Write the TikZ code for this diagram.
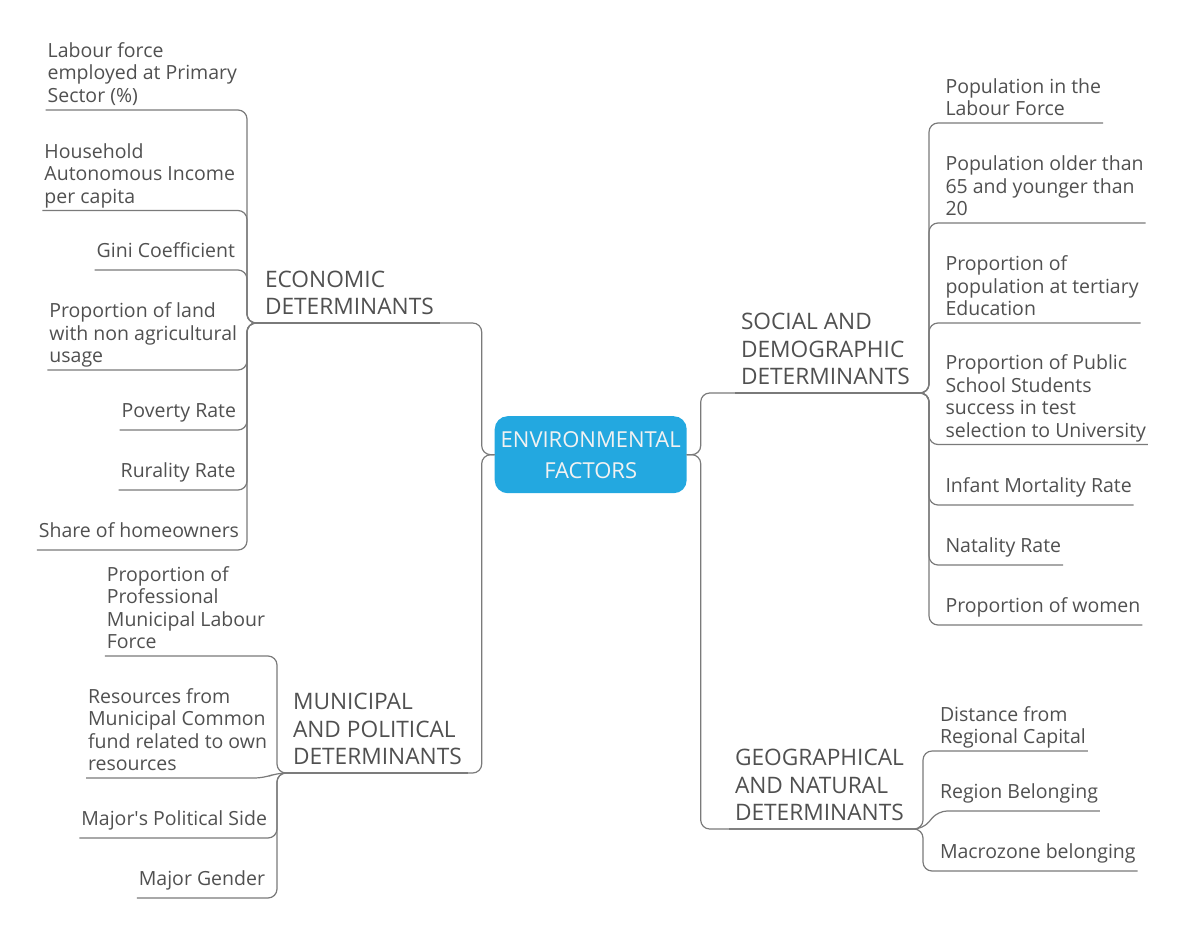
\documentclass[tikz,border=0pt]{standalone}
\usepackage{fontspec}
\setmainfont{Open Sans}
\definecolor{tc}{HTML}{505050}
\definecolor{lc}{HTML}{7A7A7A}
\definecolor{rootblue}{HTML}{23A8E0}
\definecolor{roottext}{HTML}{F2F2F2}
\newcommand\leaffont{\fontsize{19.5}{22.5}\selectfont}
\newcommand\topicfont{\fontsize{22.7}{27.5}\selectfont}
\newcommand\rootfont{\fontsize{22}{31}\selectfont}
\newcommand\sq{\XeTeXglyph\XeTeXcharglyph"27\relax}
\tikzset{
  link/.style={draw=lc, line width=1.2pt, rounded corners=9pt},
  leafm/.style={font=\leaffont, text=tc, align=left, inner xsep=2pt, inner ysep=0.75pt, outer sep=0pt, execute at end node=\strut},
  leafs/.style={leafm, inner ysep=5.95pt},
  topic/.style={font=\topicfont, text=tc, align=left, inner xsep=6pt, inner ysep=0.25pt, outer sep=0pt, execute at end node=\strut},
  rootbox/.style={font=\rootfont, text=roottext, fill=rootblue, align=center, rounded corners=13pt, minimum width=192pt, minimum height=77pt, inner sep=0pt, outer sep=0pt}
}
\begin{document}
\begin{tikzpicture}[x=1pt, y=-1pt]
\useasboundingbox (0,0) rectangle (1180,934);
% root
\node[rootbox] (root) at (590.7,454.7) {ENVIRONMENTAL\\FACTORS};
% main topics
\node[topic, anchor=south west] (econ) at (259,323) {ECONOMIC\\DETERMINANTS};
\node[topic, anchor=south west] (muni) at (287,773) {MUNICIPAL\\AND POLITICAL\\DETERMINANTS};
\node[topic, anchor=south west] (social) at (735,393) {SOCIAL AND\\DEMOGRAPHIC\\DETERMINANTS};
\node[topic, anchor=south west] (geo) at (729,829) {GEOGRAPHICAL\\AND NATURAL\\DETERMINANTS};
% economic leaves
\node[leafm, anchor=south east] (labour) at (239,110) {Labour force\\employed at Primary\\Sector (\%)};
\node[leafm, anchor=south east] (household) at (237,210.5) {Household\\Autonomous Income\\per capita};
\node[leafs, anchor=south east] (gini) at (237,270) {Gini Coefficient};
\node[leafm, anchor=south east] (land) at (239,370) {Proportion of land\\with non agricultural\\usage};
\node[leafs, anchor=south east] (poverty) at (238,430) {Poverty Rate};
\node[leafs, anchor=south east] (rurality) at (237.5,490) {Rurality Rate};
\node[leafs, anchor=south east] (share) at (241,550) {Share of homeowners};
% municipal leaves
\node[leafm, anchor=south east] (prof) at (267,656) {Proportion of\\Professional\\Municipal Labour\\Force};
\node[leafm, anchor=south east] (resources) at (269,778) {Resources from\\Municipal Common\\fund related to own\\resources};
\node[leafs, anchor=south east] (side) at (269,838) {Major\sq s Political Side};
\node[leafs, anchor=south east] (gender) at (267,898) {Major Gender};
% social leaves
\node[leafm, anchor=south west] (poplab) at (943.5,123) {Population in the\\Labour Force};
\node[leafm, anchor=south west] (older) at (943.5,223) {Population older than\\65 and younger than\\20};
\node[leafm, anchor=south west] (tertiary) at (943.5,323) {Proportion of\\population at tertiary\\Education};
\node[leafm, anchor=south west] (school) at (943.5,444.5) {Proportion of Public\\School Students\\success in test\\selection to University};
\node[leafs, anchor=south west] (infant) at (943.5,505) {Infant Mortality Rate};
\node[leafs, anchor=south west] (natality) at (943.5,565) {Natality Rate};
\node[leafs, anchor=south west] (women) at (943.5,625) {Proportion of women};
% geographical leaves
\node[leafm, anchor=south west] (dist) at (938,751) {Distance from\\Regional Capital};
\node[leafs, anchor=south west] (region) at (938,811) {Region Belonging};
\node[leafs, anchor=south west] (macro) at (938,871) {Macrozone belonging};
% hubs
\coordinate (econhub) at ([xshift=-12pt]econ.south west);
\coordinate (munihub) at ([xshift=-10pt]muni.south west);
\coordinate (socx) at ([xshift=-14.5pt]poplab.south west);
\coordinate (sochub) at (socx |- social.south);
\coordinate (geox) at ([xshift=-15pt]dist.south west);
\coordinate (geohub) at (geox |- geo.south);
% root connectors
\draw[link] (root.west) -- ++(-13,0) |- (econ.south east);
\draw[link] (root.west) -- ++(-13,0) |- (muni.south east);
\draw[link] (root.east) -- ++(14,0) |- (social.south west);
\draw[link] (root.east) -- ++(14,0) |- (geo.south west);
% economic connectors
\foreach \c in {labour,household,gini,land,poverty,rurality,share}
  \draw[link] (\c.south west) -| (econhub) -- (econ.south east);
% municipal connectors
\foreach \c in {prof,side,gender}
  \draw[link] (\c.south west) -| (munihub) -- (muni.south east);
\draw[link] (resources.south west) -- ([xshift=-5pt]resources.south east) -- (munihub) -- (muni.south east);
% social connectors
\foreach \c in {poplab,older,tertiary,school,infant,natality,women}
  \draw[link] (social.south west) -- (sochub) |- (\c.south east);
% geographical connectors
\foreach \c in {dist,macro}
  \draw[link] (geo.south west) -- (geohub) |- (\c.south east);
\draw[link] (geo.south west) -- (geohub) -- (region.south west) -- (region.south east);
\end{tikzpicture}
\end{document}
